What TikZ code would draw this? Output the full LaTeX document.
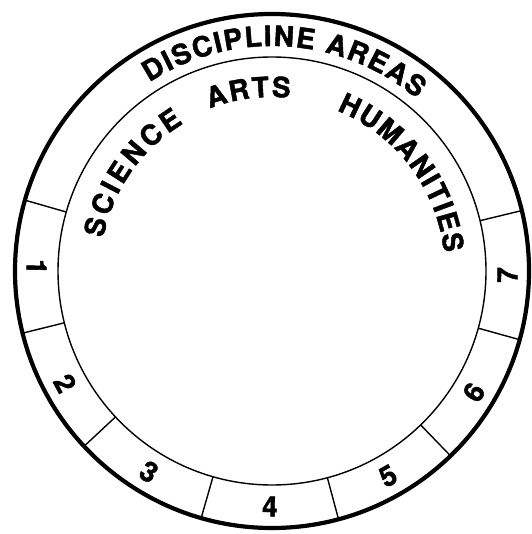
\documentclass[tikz,border=0pt]{standalone}
\usepackage{fontspec}
\setmainfont{TeX Gyre Heros}[BoldFeatures={FakeBold=1.6}]
\usetikzlibrary{decorations.text,calc}
\newcommand{\labfont}{\fontsize{28}{32}\selectfont\bfseries}

\begin{document}
\begin{tikzpicture}[
  x=1pt, y=1pt,
  ring/.style={draw=black, line width=4.2pt},
  inring/.style={draw=black, line width=1.4pt},
  divider/.style={draw=black, line width=1.4pt},
  num/.style={font=\fontsize{28}{32}\selectfont\bfseries, inner sep=0pt},
  arctext/.style={decorate, decoration={text along path, text={|\labfont|#1}, text align=fit to path}},
]
\useasboundingbox (0,0) rectangle (531,-534);
\coordinate (c) at (272,-271);
\draw[ring] (c) circle[radius=257];
\draw[inring] (c) circle[radius=214];
% ring segments
\foreach \a in {164,194,223,254,285,314,344.5,373.6}
  \draw[divider] ($(c)+(\a:214)$) -- ($(c)+(\a:257)$);
% segment numbers
\foreach \a/\n in {179/1,208.5/2,238.5/3,269.5/4,299.5/5,329/6,359/7}
  \node[num, rotate=\a+90] (n\n) at ($(c)+(\a:235.5)$) {\n};
% labels along the arcs
\path[arctext={DISCIPLINE AREAS}] ($(c)+(123:225)$) arc[start angle=123, end angle=50, radius=225];
\path[arctext={SCIENCE}] ($(c)+(169:172)$) arc[start angle=169, end angle=121, radius=172];
\path[arctext={ARTS}] ($(c)+(111:174)$) arc[start angle=111, end angle=84, radius=174];
\path[arctext={HUMANITIES}] ($(c)+(68:173)$) arc[start angle=68, end angle=6, radius=173];
\end{tikzpicture}
\end{document}
